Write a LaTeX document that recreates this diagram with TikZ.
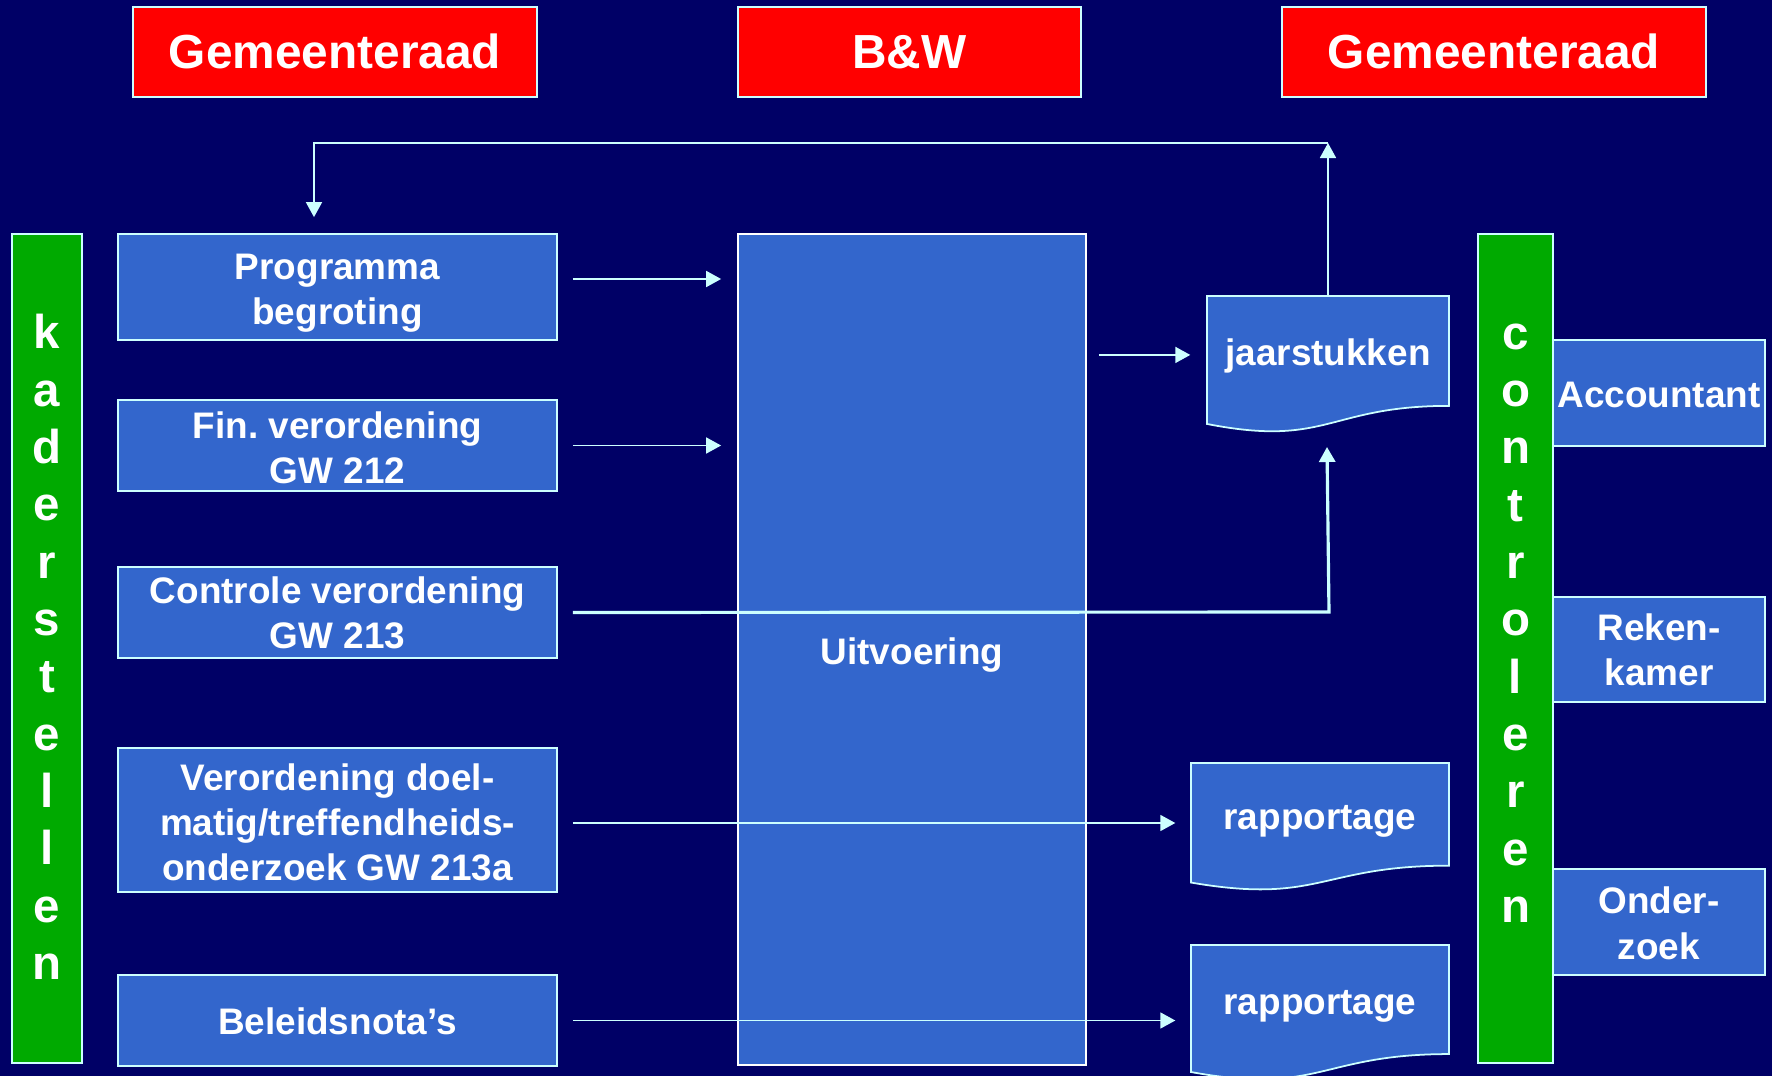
\documentclass[tikz,border=0pt]{standalone}
\usepackage{fontspec}
\setmainfont{Liberation Sans}
\usetikzlibrary{arrows.meta,calc}
\definecolor{bgnavy}{HTML}{000066}
\definecolor{boxblue}{HTML}{3366CC}
\definecolor{bargreen}{HTML}{00AA00}
\definecolor{hdrred}{HTML}{FF0000}
\definecolor{edgecyan}{HTML}{CCFFFF}
\newcommand\ppst{\vrule width 0pt height 0.905em depth 0.212em\relax}
\newcommand\docnode[6]{%
  \pgfmathsetmacro\dcYr{#3+0.802*(#5-#3)}%
  \pgfmathsetmacro\dcYl{#3+0.934*(#5-#3)}%
  \pgfmathsetmacro\dcYc{#3+1.1075*(#5-#3)}%
  \pgfmathsetmacro\dcXm{(#2+#4)/2}%
  \path[docst] (#2,#3) -- (#4,#3) -- (#4,\dcYr) .. controls (\dcXm,\dcYr) and (\dcXm,\dcYc) .. (#2,\dcYl) -- cycle;
  \node[inner sep=0pt, rect={#2}{#3}{#4}{\dcYr}] (#1) {};
  \node[tx] (#1t) at ($(#1.center)+(0,2)$) {#6};
}
\frenchspacing
\begin{document}
\begin{tikzpicture}[x=0.01cm,y=-0.01cm,
  rect/.style n args={4}{minimum width={(#3-#1)*0.01cm}, minimum height={(#4-#2)*0.01cm}, at={({(#1+#3)/2},{(#2+#4)/2})}},
  bx/.style={draw=edgecyan, line width=0.5pt, fill=boxblue, inner sep=0pt},
  tx/.style={inner sep=0pt, text=white, align=center, execute at begin node=\ppst, execute at end node=\ppst, font=\bfseries\fontsize{10.5}{12.9}\selectfont},
  hdr/.style={draw=edgecyan, line width=0.5pt, fill=hdrred, inner sep=0pt, text=white, execute at begin node=\ppst, execute at end node=\ppst, font=\bfseries\fontsize{13.6}{16}\selectfont},
  bar/.style={draw=edgecyan, line width=0.5pt, fill=bargreen, inner sep=0pt},
  vtxt/.style={text=white, align=center, inner sep=0pt, font=\bfseries\fontsize{13.5}{16.3}\selectfont},
  arr/.style={draw=edgecyan, line width=0.5pt, -{Triangle[length=0.15cm,width=0.16cm]}},
  docst/.style={draw=edgecyan, line width=0.5pt, fill=boxblue},
]
\fill[bgnavy] (0,0) rectangle (1772,1076);
\useasboundingbox (0,0) rectangle (1772,1076);

% headers
\node[hdr, rect={133}{7}{537}{97}] (gr1) {Gemeenteraad};
\node[hdr, rect={738}{7}{1081}{97}] (bw) {B\&W};
\node[hdr, rect={1282}{7}{1706}{97}] (gr2) {Gemeenteraad};

% green bars
\node[bar, rect={12}{234}{82}{1063}] (kbar) {};
\node[vtxt] (ktxt) at (47,647) {k\\a\\d\\e\\r\\s\\t\\e\\l\\l\\e\\n};
\node[bar, rect={1478}{234}{1553}{1063}] (cbar) {};
\node[vtxt] (ctxt) at (1515.5,623) {c\\o\\n\\t\\r\\o\\l\\e\\r\\e\\n};

% left boxes
\node[bx, rect={118}{234}{557}{340}] (prog) {};
\node[tx] (progt) at ($(prog.center)+(0,6)$) {Programma\\begroting};
\node[bx, rect={118}{400}{557}{491}] (fin) {};
\node[tx] (fint) at ($(fin.center)+(0,6)$) {Fin. verordening\\GW 212};
\node[bx, rect={118}{567}{557}{658}] (ctrl) {};
\node[tx] (ctrlt) at ($(ctrl.center)+(0,4)$) {Controle verordening\\GW 213};
\node[bx, rect={118}{748}{557}{892}] (verd) {};
\node[tx] (verdt) at ($(verd.center)+(0,6)$) {Verordening doel-\\matig/treffendheids-\\onderzoek GW 213a};
\node[bx, rect={118}{975}{557}{1066}] (bel) {};
\node[tx] (belt) at ($(bel.center)+(0,1)$) {Beleidsnota’s};

% middle
\node[bx, draw=white, rect={738}{234}{1086}{1065}] (uit) {};
\node[tx] (uitt) at ($(uit.center)+(0,2)$) {Uitvoering};

% documents
\docnode{jaar}{1207}{296}{1449}{433}{jaarstukken}
\docnode{rap1}{1191}{763}{1449}{891}{rapportage}
\docnode{rap2}{1191}{945}{1449}{1081}{rapportage}

% right boxes
\node[bx, rect={1553}{340}{1765}{446}] (acc) {};
\node[tx] (acct) at ($(acc.center)+(0,2)$) {Accountant};
\node[bx, rect={1553}{597}{1765}{702}] (rek) {};
\node[tx] (rekt) at ($(rek.center)+(0,4)$) {Reken-\\kamer};
\node[bx, rect={1553}{869}{1765}{975}] (ond) {};
\node[tx] (ondt) at ($(ond.center)+(0,5)$) {Onder-\\zoek};

% connectors
\draw[arr] ($(prog.east)+(15,-8)$) -- ($(prog.east -| uit.west)+(-16,-8)$);
\draw[arr] ($(fin.east)+(15,0)$) -- ($(fin.east -| uit.west)+(-16,0)$);
\coordinate (cup) at (1329,612);
\coordinate (jin) at (1327,447);
\draw[arr, line width=0.9pt] ($(ctrl.east)+(15,0)$) -- (cup) -- (jin);
\draw[arr] ($(verd.east)+(15,3)$) -- ($(verd.east -| rap1.west)+(-15,3)$);
\draw[arr] ($(bel.east)+(15,0)$) -- ($(bel.east -| rap2.west)+(-15,0)$);
\draw[arr] ($(uit.east |- jaar.west)+(12,4)$) -- ($(jaar.west)+(-16,4)$);
\coordinate (ftr) at (1328,143);
\coordinate (ftl) at (314,143);
\draw[arr] (jaar.north) -- (ftr);
\draw[arr] (ftr) -- (ftl) -- ($(prog.north -| ftl)+(0,-16)$);
\end{tikzpicture}
\end{document}
